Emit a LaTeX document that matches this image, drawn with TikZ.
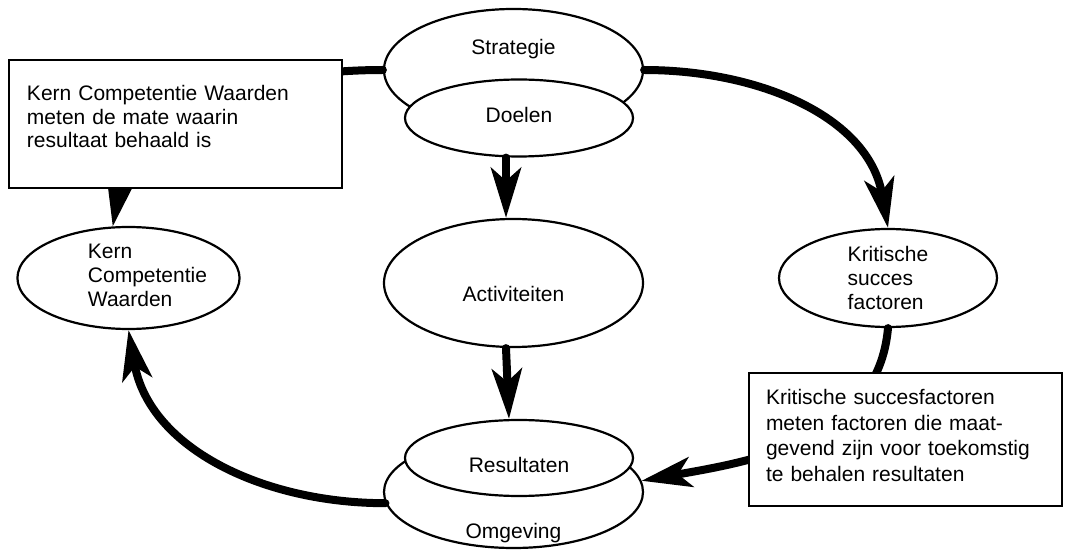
\documentclass[tikz,border=0pt]{standalone}
\usepackage{fontspec}
\setmainfont{Liberation Sans}
\usetikzlibrary{arrows.meta,shapes.geometric}
\tikzset{
  oval/.style={draw,ellipse,line width=2.2pt,fill=white,inner sep=0pt,
    align=left,font=\fontsize{21}{24}\selectfont},
  note/.style={draw,rectangle,line width=2.4pt,fill=white,inner sep=0pt,
    align=left},
  flow/.style={-{Stealth[length=50pt,width=30pt,inset=13pt]},
    line width=8pt,line cap=round}
}
\newcommand{\lift}[2]{\raisebox{#1}[0pt][0pt]{#2}}

\begin{document}
\begin{tikzpicture}[x=1pt,y=1pt]
  \useasboundingbox (0,0) rectangle (1069,552);
  % centre column
  \node[oval,minimum width=259pt,minimum height=122pt] (strat) at (513.5,482)
    {\lift{15.5pt}{Strategie}};
  \node[oval,minimum width=228pt,minimum height=77pt] (doel) at (519,434)
    {\lift{-4.5pt}{Doelen}};
  \node[oval,minimum width=259pt,minimum height=128pt] (activ) at (513.5,269)
    {\lift{-18.5pt}{Activiteiten}};
  \node[oval,minimum width=259pt,minimum height=112pt] (omg) at (513.5,60)
    {\lift{-46.5pt}{Omgeving}};
  \node[oval,minimum width=228pt,minimum height=76pt] (res) at (519,94)
    {\lift{-14.5pt}{Resultaten}};
  % side ovals
  \node[oval,minimum width=219pt,minimum height=102pt] (kern) at (128.5,274)
    {\begin{tabular}{@{\hspace{38pt}}l@{}}Kern\\Competentie\\Waarden\end{tabular}};
  \node[oval,minimum width=218pt,minimum height=98pt] (krit) at (888,274)
    {Kritische\\succes\\factoren};
  % connectors
  \draw[flow] ([xshift=-13pt]doel.south) -- ([xshift=-7.5pt]activ.north);
  \draw[flow] ([xshift=-7.5pt]activ.south) -- ([xshift=-10pt]res.north);
  \draw[flow] (strat.west) to[out=180,in=80] (kern.107);
  \draw[flow] (strat.east) to[out=0,in=100] (krit.north);
  \draw[flow] (krit.south) to[out=-95,in=10] (omg.5);
  \draw[flow] (omg.185) to[out=180,in=-80] (kern.south);
  % notes
  \node[note,minimum width=333pt,minimum height=128pt,text width=297pt,
    font=\fontsize{21}{23.5}\selectfont] (kernnote) at (175.5,428)
    {Kern Competentie Waarden\\meten de mate waarin\\resultaat behaald is\par\kern15pt};
  \node[note,minimum width=313pt,minimum height=133pt,text width=279pt,
    font=\fontsize{21}{25.8}\selectfont] (kritnote) at (905.5,112.5)
    {Kritische succesfactoren\\meten factoren die maat-\\gevend zijn voor toekomstig\\te behalen resultaten\par\kern8pt};
\end{tikzpicture}
\end{document}
